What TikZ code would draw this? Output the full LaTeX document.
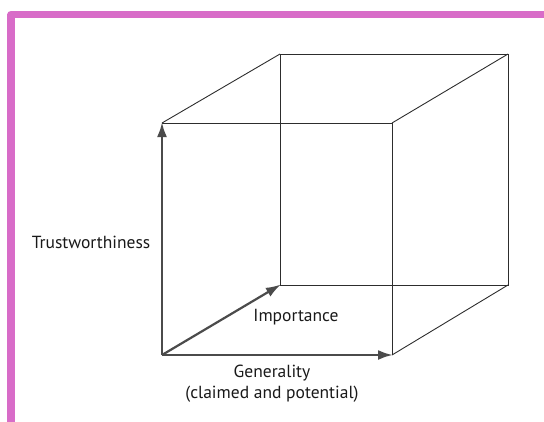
\documentclass[tikz,border=0pt]{standalone}
\usepackage{fontspec}
\setmainfont{PT Sans}
\usetikzlibrary{arrows.meta}
\definecolor{framepink}{RGB}{216,108,200}
\definecolor{axisgrey}{RGB}{75,75,75}
\definecolor{edgegrey}{RGB}{45,45,45}
\tikzset{
  cubeedge/.style={draw=edgegrey, line width=0.9pt},
  axisarrow/.style={draw=axisgrey, line width=2.6pt, -{Latex[length=15pt,width=10pt]}, shorten >=-1pt},
  axislabel/.style={font=\fontsize{17.5}{21}\selectfont, text=black!90, inner sep=0pt, align=center}
}
\begin{document}
\begin{tikzpicture}[x=1pt,y=-1pt]
\useasboundingbox (0,0) rectangle (544,421);
% frame
\draw[framepink, line width=7.6pt, line join=round] (11.2,430) -- (11.2,14.6) -- (550,14.6);
% cube corners
\coordinate (A) at (162,355); % front bottom left (origin)
\coordinate (B) at (392,355); % front bottom right
\coordinate (C) at (392,123); % front top right
\coordinate (D) at (162,123); % front top left
\coordinate (E) at (280,285); % back bottom left
\coordinate (F) at (508,285); % back bottom right
\coordinate (G) at (508,54);  % back top right
\coordinate (H) at (280,54);  % back top left
% edges
\draw[cubeedge] (D) -- (C) -- (B);
\draw[cubeedge] (E) -- (F) -- (G) -- (H) -- (E);
\draw[cubeedge] (D) -- (H);
\draw[cubeedge] (C) -- (G);
\draw[cubeedge] (B) -- (F);
% axes
\draw[axisarrow] (A) -- (D);
\draw[axisarrow] (A) -- (B);
\draw[axisarrow, line width=2.2pt] (A) -- (E);
% labels
\node[axislabel] (trust) at (91,242) {Trustworthiness};
\node[axislabel] (imp) at (296,317) {Importance};
\node[axislabel] (gen) at (272,383.5) {Generality\\(claimed and potential)};
\end{tikzpicture}
\end{document}
